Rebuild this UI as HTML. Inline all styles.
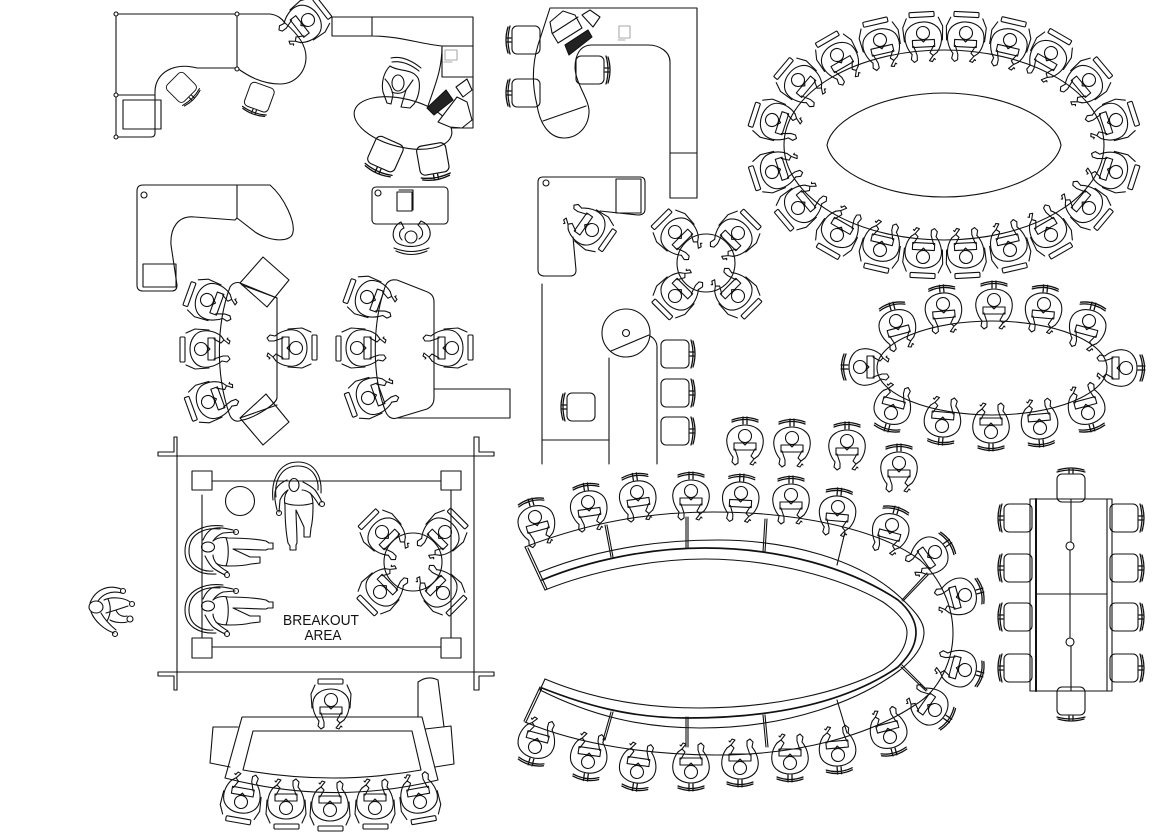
<!DOCTYPE html>
<html lang="en">
<head>
<meta charset="utf-8">
<title>Office furniture plan</title>
<style>
html,body{margin:0;padding:0;background:#fff;width:1170px;height:837px;overflow:hidden}
svg{display:block}
text{font-family:"Liberation Sans",sans-serif;font-size:14.5px;fill:#111;stroke:none;text-anchor:middle}
</style>
</head>
<body>
<svg xmlns="http://www.w3.org/2000/svg" width="1170" height="837" viewBox="0 0 1170 837" fill="none" stroke="#111" stroke-width="1.1" stroke-linejoin="round" stroke-linecap="round">
<defs>
<g id="b">
<path d="M-12,21C-17,15 -19,7 -18,2C-17,-6 -9,-11 0,-11C9,-11 17,-6 18,2C19,8 17,15 13,20"/>
<path d="M-12,21L-13,26L-10,29L-7,27L-7,22L-10,13M13,20L9,23L5,28L8,29L10,26L11,27M9,23L6,20L10,13"/>
<path d="M-11,7H11M-11,14H11M-11,7V14M11,7V14"/>
<circle cx="0" cy="0" r="6.5"/>
<path d="M-3,6L0,9L3,6"/>
</g>
<g id="p"><rect x="-13" y="-21" width="25" height="5" rx="1"/><path d="M-16,-15L-20,-6L-19,8M16,-15L20,-6L19,8"/><use href="#b"/></g>
<g id="q"><path d="M-13,-16Q0,-21 13,-16M-13,-14Q0,-19 13,-14M-2,-19V-12M2,-19V-12" stroke-width="1.3"/><use href="#b"/></g>
<g id="c"><rect x="-13" y="-14" width="28" height="28" rx="5"/><path d="M-15,-14Q-19,0 -15,14M-17,-13Q-21,0 -17,13M-18,-2H-14M-18,2H-14" stroke-width="1.3"/></g>
<g id="s">
<path d="M-22,15C-24,-2 -18,-23 3,-23C20,-23 27,-8 26,8M-19,12C-21,-4 -14,-19 3,-19C18,-19 24,-6 23,5"/>
<ellipse cx="-1" cy="0" rx="5" ry="6.5"/>
<path d="M-8,-5C-15,-2 -20,3 -20,8C-21,14 -19,20 -18,25M-16,27L-15,15C-13,10 -10,7 -7,5M8,-3C14,0 18,3 20,5C23,9 25,13 27,17M24,20C21,15 18,11 15,8C12,6 9,5 7,5"/>
<circle cx="-16" cy="28" r="2.5"/><circle cx="27" cy="19" r="2.5"/>
<path d="M-7,5C-11,10 -11,15 -10,20C-10,35 -9,48 -7,58L-5,61V65H1V60L2,58C2,45 1,35 1,25L9,42V45L9,52H15L16,43C18,35 18,28 18,22C18,15 17,10 15,8M-10,18C-3,21 10,21 18,18"/>
</g>
</defs>

<!-- top-left desk -->
<path d="M116,14H270C278,15 282,19 285,23C298,34 306,45 306,57C306,72 295,84 280,84C262,84 248,76 237,68H197C175,62 155,72 155,92V133Q155,137 151,137H116V14"/>
<path d="M237,14V68M116,95H155"/>
<rect x="123" y="100" width="38" height="29"/>
<g fill="#fff"><circle cx="116" cy="14" r="2"/><circle cx="237" cy="14" r="2"/><circle cx="116" cy="95" r="2"/><circle cx="116" cy="137" r="2"/><circle cx="237" cy="69" r="2"/></g>
<use href="#c" transform="translate(182,88) rotate(225) scale(.85)"/>
<use href="#c" transform="translate(259,98) rotate(-70) scale(.9)"/>
<use href="#p" transform="translate(308,20) rotate(52)"/>

<!-- top-middle desk -->
<path d="M332,17H473V128H451M332,17V36H372V17M372,36C400,36 420,44 442,46M442,46H473V77H442V46C442,70 435,85 428,106"/>
<ellipse cx="403" cy="123" rx="50" ry="24" transform="rotate(14 403 123)"/>
<path d="M438,122L457,97L467,102L472,120L462,128L450,127Z" fill="#fff"/>
<path d="M456,87L467,79L472,90L463,97Z"/>
<path d="M427,108L446,90L453,100L434,115Z" fill="#222"/>
<path d="M445,50H457V60H445ZM444,62H452" stroke="#aaa"/>
<path d="M391,58Q405,55 421,68M392,62Q405,60 419,71M387,103L383,92C381,82 384,72 390,66C398,72 412,68 418,78C421,85 419,97 414,104L410,108L401,107L406,90L413,80M385,79C390,84 392,90 393,95L391,104L387,103"/>
<ellipse cx="398" cy="83" rx="6" ry="8"/>
<path d="M392,92C396,94 402,94 406,90"/>
<use href="#c" transform="translate(385,155) rotate(-66) scale(1.05)"/>
<use href="#c" transform="translate(433,160) rotate(-100) scale(1.05)"/>

<!-- L desk 2 -->
<path d="M143,185H270C285,198 295,222 293,232C292,243 270,242 255,232L237,218L235,220L195,217C178,215 170,228 171,245L177,285Q177,291 172,291H143Q137,291 137,285V191Q137,185 143,185Z"/>
<path d="M237,185V218"/>
<circle cx="144" cy="195" r="3"/>
<rect x="143" y="264" width="33" height="23"/>

<!-- small desk -->
<rect x="372" y="187" width="76" height="37" rx="4"/>
<circle cx="378" cy="193" r="3"/>
<rect x="397" y="192" width="15" height="19"/><path d="M399,190H413V210"/>
<circle cx="411" cy="237" r="6"/>
<path d="M401,222C392,226 390,240 399,244C408,248 420,247 426,242C433,236 431,225 421,221L418,225C424,230 424,236 419,239M401,222L404,228C399,230 398,236 402,240"/>
<path d="M394,248Q411,255 429,248M396,251Q411,258 427,251"/>

<!-- conference left -->
<path d="M230,287C233,282 240,281 242,285L277,298V398C276,405 250,420 242,420C236,423 231,420 229,413C216,375 216,325 230,287Z"/>
<path d="M263,257L289,280L267,307L240,283ZM266,394L289,422L263,445L240,418ZM240,418L277,405M240,283L277,298"/>
<use href="#p" transform="translate(207,300) rotate(-70)"/>
<use href="#p" transform="translate(201,349) rotate(-90)"/>
<use href="#p" transform="translate(208,402) rotate(-110)"/>
<use href="#p" transform="translate(296,348) rotate(90)"/>

<!-- conference right -->
<path d="M385,287C387,281 391,279 397,280L425,291C431,293 434,296 434,302V398C434,404 431,407 427,409L397,418C391,420 387,416 385,410C372,375 372,325 385,287Z"/>
<path d="M434,389H510V418H397"/>
<use href="#p" transform="translate(367,297) rotate(-70)"/>
<use href="#p" transform="translate(357,348) rotate(-90)"/>
<use href="#p" transform="translate(368,398) rotate(-110)"/>
<use href="#p" transform="translate(452,348) rotate(90)"/>

<!-- top centre desk -->
<path d="M550,8H697V198H670V62C670,52 660,45 648,45H592C580,45 575,55 575,68C576,85 590,100 589,113C588,128 577,138 564,138C550,138 540,125 537,105C532,85 532,65 538,45Z"/>
<path d="M543,121L586,106M670,153H697"/>
<path d="M550,22L563,11L575,15L582,28L558,43L552,33Z"/>
<path d="M553,33L578,17"/>
<path d="M582,15L590,10L600,17L593,27Z"/>
<path d="M565,45L588,30L592,37L569,55Z" fill="#222"/>
<path d="M619,26H630V38H619ZM618,40H625" stroke="#aaa"/>
<use href="#c" transform="translate(525,40)"/>
<use href="#c" transform="translate(525,93)"/>
<use href="#c" transform="translate(591,70) rotate(180)"/>

<!-- lower L desk -->
<path d="M573,237L576,270Q576,276 570,276H545Q538,276 538,270V182Q538,177 543,177H640Q645,177 645,182V209Q645,215 638,215L600,211"/>
<rect x="616" y="179" width="25" height="34"/>
<circle cx="546" cy="183" r="3"/>
<use href="#p" transform="translate(592,230) rotate(125)"/>

<!-- 4 seat round -->
<circle cx="706" cy="263" r="29"/>
<use href="#p" transform="translate(675,232) rotate(-45)"/>
<use href="#p" transform="translate(738,233) rotate(45)"/>
<use href="#p" transform="translate(675,296) rotate(-135)"/>
<use href="#p" transform="translate(738,296) rotate(135)"/>

<!-- panel with disc -->
<path d="M542,284V464M542,440H609M609,464V358M657,464V347C657,342 654,338 650,336M611,351L649,335"/>
<circle cx="626" cy="333" r="24"/>
<circle cx="626" cy="333" r="3.5"/>
<use href="#c" transform="translate(580,407)"/>
<use href="#c" transform="translate(676,354) rotate(180)"/>
<use href="#c" transform="translate(676,393) rotate(180)"/>
<use href="#c" transform="translate(676,431) rotate(180)"/>

<!-- big oval -->
<ellipse cx="944" cy="145" rx="160" ry="95"/>
<path d="M827,145C832,118 885,93 944,93C1003,93 1056,118 1061,145C1056,172 1003,197 944,197C885,197 832,172 827,145Z"/>
<use href="#p" transform="translate(772,120) rotate(-72)"/>
<use href="#p" transform="translate(798,80) rotate(-50)"/>
<use href="#p" transform="translate(837,55) rotate(-30)"/>
<use href="#p" transform="translate(880,40) rotate(-13)"/>
<use href="#p" transform="translate(923,33) rotate(-3)"/>
<use href="#p" transform="translate(966,33) rotate(3)"/>
<use href="#p" transform="translate(1010,40) rotate(13)"/>
<use href="#p" transform="translate(1051,53) rotate(30)"/>
<use href="#p" transform="translate(1089,80) rotate(50)"/>
<use href="#p" transform="translate(1116,120) rotate(72)"/>
<use href="#p" transform="translate(1116,172) rotate(108)"/>
<use href="#p" transform="translate(1089,208) rotate(130)"/>
<use href="#p" transform="translate(1051,235) rotate(150)"/>
<use href="#p" transform="translate(1010,250) rotate(167)"/>
<use href="#p" transform="translate(966,257) rotate(177)"/>
<use href="#p" transform="translate(923,257) rotate(183)"/>
<use href="#p" transform="translate(880,250) rotate(193)"/>
<use href="#p" transform="translate(837,235) rotate(210)"/>
<use href="#p" transform="translate(798,208) rotate(230)"/>
<use href="#p" transform="translate(772,172) rotate(252)"/>

<!-- medium oval -->
<ellipse cx="992" cy="368" rx="115" ry="47"/>
<use href="#q" transform="translate(896,321) rotate(-15)"/>
<use href="#q" transform="translate(943,304) rotate(-5)"/>
<use href="#q" transform="translate(994,300)"/>
<use href="#q" transform="translate(1044,304) rotate(5)"/>
<use href="#q" transform="translate(1089,321) rotate(15)"/>
<use href="#q" transform="translate(860,367) rotate(-90)"/>
<use href="#q" transform="translate(1126,368) rotate(90)"/>
<use href="#q" transform="translate(891,413) rotate(195)"/>
<use href="#q" transform="translate(942,426) rotate(185)"/>
<use href="#q" transform="translate(991,432) rotate(180)"/>
<use href="#q" transform="translate(1040,428) rotate(175)"/>
<use href="#q" transform="translate(1088,413) rotate(165)"/>

<!-- loose row -->
<use href="#q" transform="translate(745,436)"/>
<use href="#q" transform="translate(792,438)"/>
<use href="#q" transform="translate(847,441)"/>
<use href="#q" transform="translate(899,463)"/>

<!-- horseshoe table -->
<path d="M525,547C590,522 650,512 713,512C800,512 880,530 920,560C940,578 953,605 953,633C953,660 940,690 915,705C870,735 800,755 717,755C650,755 580,745 525,722"/>
<path d="M540,572C590,552 650,540 717,540C790,540 860,560 900,597C916,612 924,622 924,632C924,645 915,658 900,670C860,700 790,728 700,728C640,728 590,715 540,690"/>
<path d="M542,580C590,560 650,548 705,548C780,548 850,568 898,600C910,610 916,622 916,632C916,645 910,655 898,667C850,700 780,718 687,718C630,718 585,705 542,688" stroke-width="1.7"/>
<path d="M545,590C590,572 650,559 705,559C770,559 840,577 883,602C900,614 907,624 907,632C907,645 900,658 883,670C840,693 770,708 700,708C640,708 590,698 545,679"/>
<path d="M525,547L545,590M528,548L547,589M605,525L611,557M607,525L613,557M686,517L686,548M688,517L688,548M765,519L763,552M767,519L765,552M845,532L837,565M927,573L902,600M928,575L903,601M902,665L927,690M901,667L926,691M837,700L847,733M763,715L766,747M765,715L768,747M686,717L686,747M688,717L688,747M611,712L603,740M613,712L605,740M542,688L526,722M540,687L524,721M545,679L540,690"/>
<use href="#q" transform="translate(535,517) rotate(-15)"/>
<use href="#q" transform="translate(588,502) rotate(-8)"/>
<use href="#q" transform="translate(637,492) rotate(-8)"/>
<use href="#q" transform="translate(691,491)"/>
<use href="#q" transform="translate(741,493) rotate(3)"/>
<use href="#q" transform="translate(791,495)"/>
<use href="#q" transform="translate(838,507) rotate(5)"/>
<use href="#q" transform="translate(892,525) rotate(15)"/>
<use href="#q" transform="translate(935,552) rotate(55)"/>
<use href="#q" transform="translate(965,595) rotate(75)"/>
<use href="#q" transform="translate(965,670) rotate(105)"/>
<use href="#q" transform="translate(935,710) rotate(125)"/>
<use href="#q" transform="translate(890,737) rotate(165)"/>
<use href="#q" transform="translate(838,755) rotate(175)"/>
<use href="#q" transform="translate(790,763) rotate(180)"/>
<use href="#q" transform="translate(740,768) rotate(180)"/>
<use href="#q" transform="translate(691,772) rotate(180)"/>
<use href="#q" transform="translate(637,772) rotate(188)"/>
<use href="#q" transform="translate(588,762) rotate(188)"/>
<use href="#q" transform="translate(535,747) rotate(195)"/>

<!-- rectangular table -->
<rect x="1030" y="499" width="82" height="192"/>
<path d="M1036,499V691" stroke-width="2"/>
<path d="M1107,499V691M1036,594H1107M1071,499V542M1070,550V638M1071,646V691"/>
<circle cx="1070" cy="546" r="4"/><circle cx="1070" cy="642" r="4"/>
<use href="#c" transform="translate(1071,487) rotate(90)"/>
<use href="#c" transform="translate(1071,702) rotate(-90)"/>
<use href="#c" transform="translate(1017,518)"/>
<use href="#c" transform="translate(1017,568)"/>
<use href="#c" transform="translate(1017,617)"/>
<use href="#c" transform="translate(1017,668)"/>
<use href="#c" transform="translate(1125,518) rotate(180)"/>
<use href="#c" transform="translate(1125,568) rotate(180)"/>
<use href="#c" transform="translate(1125,617) rotate(180)"/>
<use href="#c" transform="translate(1125,668) rotate(180)"/>

<!-- breakout area -->
<path d="M177,437V690M474,437V690M177,456H474M177,672H474"/>
<path d="M177,437H174V452H158V456H177M474,437H479V452H494V456H474M177,690H174V676H158V672H177M474,690H479V676H494V672H474"/>
<rect x="192" y="471" width="20" height="19"/><rect x="441" y="471" width="20" height="19"/>
<rect x="192" y="638" width="20" height="20"/><rect x="441" y="638" width="20" height="20"/>
<path d="M212,481H441M212,647H441M202,495V638M451,490V638"/>
<circle cx="240" cy="501" r="14.5"/>
<use href="#s" transform="translate(295,485)"/>
<use href="#s" transform="translate(208,548) rotate(-90) scale(-1,1)"/>
<use href="#s" transform="translate(208,607) rotate(-90) scale(-1,1)"/>
<circle cx="413" cy="562" r="29"/>
<use href="#p" transform="translate(382,532) rotate(-45)"/>
<use href="#p" transform="translate(445,532) rotate(45)"/>
<use href="#p" transform="translate(380,592) rotate(-135)"/>
<use href="#p" transform="translate(443,593) rotate(135)"/>
<text x="321" y="625" textLength="76" lengthAdjust="spacingAndGlyphs">BREAKOUT</text>
<text x="323" y="640" textLength="37" lengthAdjust="spacingAndGlyphs">AREA</text>

<!-- free person -->
<ellipse cx="96" cy="607" rx="7" ry="6"/>
<path d="M121,589C108,584 95,590 90,603M122,593C110,590 102,595 98,601M91,612C95,622 105,630 114,633M101,613C105,620 110,625 116,630"/>
<circle cx="123" cy="591" r="2.5"/><circle cx="115" cy="634" r="2.5"/>
<path d="M104,600C112,596 125,598 130,602M106,613L116,610L128,606M116,610C118,616 124,617 127,616M110,620C115,623 124,623 127,622M108,599C111,606 111,614 107,621"/>
<circle cx="132" cy="604" r="2.5"/><circle cx="130" cy="619" r="3"/>

<!-- bottom table -->
<path d="M242,717H422L438,780Q333,806 225,778Z"/>
<path d="M253,731H412L421,770Q333,786 243,770Z"/>
<path d="M238,727H213L210,763L230,767M425,729L451,726L454,764L435,767M418,717V682Q428,675 438,680L444,727"/>
<use href="#p" transform="translate(331,700)"/>
<use href="#p" transform="translate(241,802) rotate(190)"/>
<use href="#p" transform="translate(286,808) rotate(180)"/>
<use href="#p" transform="translate(330,810) rotate(180)"/>
<use href="#p" transform="translate(375,808) rotate(180)"/>
<use href="#p" transform="translate(420,802) rotate(170)"/>
</svg>
</body>
</html>
